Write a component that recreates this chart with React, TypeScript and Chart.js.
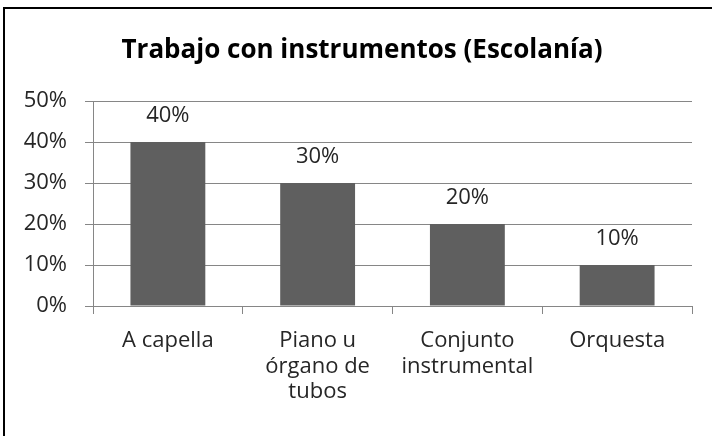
import React, { useEffect, useRef } from "react";
import { Chart, registerables } from "chart.js";

Chart.register(...registerables);

const chartTitle = "Trabajo con instrumentos (Escolanía)";
const categories: string[][] = [
  ["A capella"],
  ["Piano u", "órgano de", "tubos"],
  ["Conjunto", "instrumental"],
  ["Orquesta"],
];
const values: number[] = [40, 30, 20, 10];
const yMin = 0;
const yMax = 50;
const yStep = 10;

const FONT = "'Open Sans', 'DejaVu Sans', sans-serif";
const TEXT = "#262626";
const GRID = "#868686";
const BAR = "#5f5f5f";

const valueLabels = {
  id: "valueLabels",
  afterDatasetsDraw(chart: any) {
    const ctx = chart.ctx;
    const meta = chart.getDatasetMeta(0);
    ctx.save();
    ctx.font = `22px ${FONT}`;
    ctx.fillStyle = TEXT;
    ctx.textAlign = "center";
    ctx.textBaseline = "alphabetic";
    meta.data.forEach((bar: any, i: number) => {
      ctx.fillText(`${values[i]}%`, bar.x, bar.y - 20);
    });
    ctx.restore();
  },
};

const titlePlugin = {
  id: "customTitle",
  afterDraw(chart: any) {
    const ctx = chart.ctx;
    ctx.save();
    ctx.font = `bold 26px ${FONT}`;
    ctx.fillStyle = "#000000";
    ctx.textAlign = "center";
    ctx.textBaseline = "alphabetic";
    ctx.fillText(chartTitle, 362, 58);
    ctx.restore();
  },
};

export default function App() {
  const canvasRef = useRef<HTMLCanvasElement | null>(null);

  useEffect(() => {
    if (!canvasRef.current) return;
    const chart = new Chart(canvasRef.current, {
      type: "bar",
      data: {
        labels: categories,
        datasets: [
          {
            data: values,
            backgroundColor: BAR,
            borderWidth: 0,
            barPercentage: 0.5,
            categoryPercentage: 1,
          },
        ],
      },
      options: {
        animation: false,
        responsive: false,
        maintainAspectRatio: false,
        devicePixelRatio: 1,
        layout: { padding: { left: 0, right: 20, top: 101, bottom: 0 } },
        plugins: {
          legend: { display: false },
          tooltip: { enabled: false },
          title: { display: false },
        },
        scales: {
          x: {
            offset: true,
            grid: {
              offset: true,
              drawOnChartArea: false,
              drawTicks: true,
              tickLength: 8,
              color: GRID,
            },
            border: { display: true, color: GRID, width: 1 },
            ticks: {
              color: TEXT,
              font: { family: FONT, size: 22, lineHeight: 1.16 },
              padding: 14,
              maxRotation: 0,
              minRotation: 0,
              autoSkip: false,
            },
            afterFit: (s: any) => {
              s.height = 130;
            },
          },
          y: {
            min: yMin,
            max: yMax,
            grid: { color: GRID, tickLength: 8, drawTicks: true },
            border: { display: true, color: GRID, width: 1 },
            ticks: {
              stepSize: yStep,
              color: TEXT,
              padding: 18,
              font: { family: FONT, size: 22 },
              callback: (v: any) => `${v}%`,
            },
            afterFit: (s: any) => {
              s.width = 93;
            },
          },
        },
      },
      plugins: [valueLabels, titlePlugin],
    });
    return () => chart.destroy();
  }, []);

  return (
    <div
      style={{
        position: "fixed",
        left: 0,
        top: 0,
        width: 712,
        height: 436,
        background: "#ffffff",
        overflow: "hidden",
      }}
    >
      <canvas
        ref={canvasRef}
        width={712}
        height={436}
        style={{ position: "absolute", left: 0, top: 0, width: 712, height: 436 }}
      />
      <div
        style={{
          position: "absolute",
          left: 3,
          top: 7,
          width: 712,
          height: 436,
          borderLeft: "2px solid #000",
          borderTop: "2px solid #000",
          boxSizing: "border-box",
          pointerEvents: "none",
        }}
      />
    </div>
  );
}
